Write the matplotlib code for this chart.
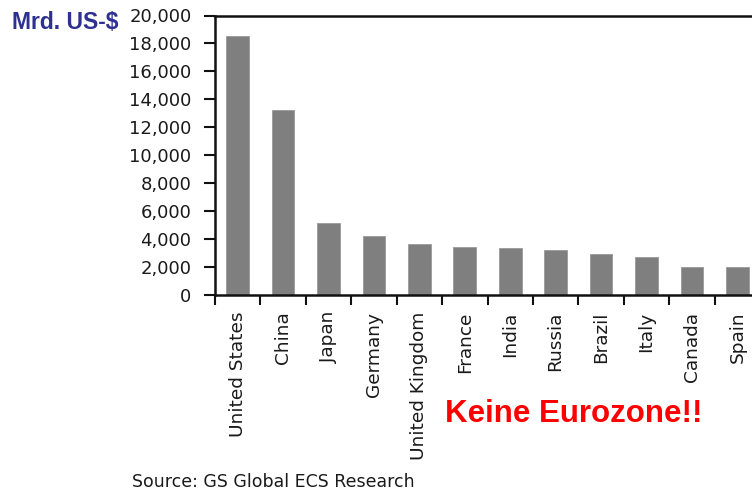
import matplotlib
matplotlib.use("Agg")
import matplotlib.pyplot as plt
import numpy as np
from matplotlib.ticker import FuncFormatter, FixedLocator

countries = ["United States", "China", "Japan", "Germany", "United Kingdom", "France",
             "India", "Russia", "Brazil", "Italy", "Canada", "Spain"]
values = [18500, 13250, 5150, 4250, 3630, 3450, 3350, 3200, 2900, 2750, 2000, 1980]
yticks = [0, 2000, 4000, 6000, 8000, 10000, 12000, 14000, 16000, 18000, 20000]

W, H = 752, 492
fig = plt.figure(figsize=(W / 100, H / 100), dpi=100)
fig.patch.set_facecolor("white")

left, right, bottom, top = 215, 760, 295, 15.5
ax = fig.add_axes([left / W, 1 - bottom / H, (right - left) / W, (bottom - top) / H])
ax.set_facecolor("white")

x = np.arange(len(countries))
ax.bar(x, values, width=0.5, color="#7f7f7f", edgecolor="#9a9a9a", linewidth=0.6, zorder=2)

ax.set_xlim(-0.5, len(countries) - 0.5)
ax.set_ylim(0, 20000)

ax.set_yticks(yticks)
ax.yaxis.set_major_formatter(FuncFormatter(lambda v, p: f"{int(v):,}"))
ax.tick_params(axis="y", direction="out", length=8, width=1.5, pad=9,
               labelsize=13, labelcolor="#1a1a1a", color="#111111")

ax.set_xticks(x)
ax.set_xticklabels(countries, rotation=90, va="top", ha="center",
                   fontsize=13.3, color="#1a1a1a")
ax.tick_params(axis="x", which="major", length=0, pad=12)
ax.xaxis.set_minor_locator(FixedLocator(np.arange(-0.5, len(countries), 1.0)))
ax.tick_params(axis="x", which="minor", direction="out", length=7, width=1.5, color="#111111")

for s in ["left", "bottom", "top"]:
    ax.spines[s].set_linewidth(1.8)
    ax.spines[s].set_color("#111111")
ax.spines["right"].set_visible(False)

for lab in ax.get_xticklabels() + ax.get_yticklabels():
    lab.set_family("DejaVu Sans")

fig.text(12 / W, 1 - 29 / H, "Mrd. US-$", color="#2e3192", fontsize=16.5,
         fontweight="bold", family="Liberation Sans", ha="left", va="baseline")
fig.text(445 / W, 1 - 422 / H, "Keine Eurozone!!", color="#ff0000", fontsize=22.5,
         fontweight="bold", family="Liberation Sans", ha="left", va="baseline")
fig.text(132 / W, 1 - 487 / H, "Source: GS Global ECS Research", color="#1a1a1a",
         fontsize=12.5, family="DejaVu Sans", ha="left", va="baseline")

fig.savefig("out.png", dpi=100, facecolor="white")
